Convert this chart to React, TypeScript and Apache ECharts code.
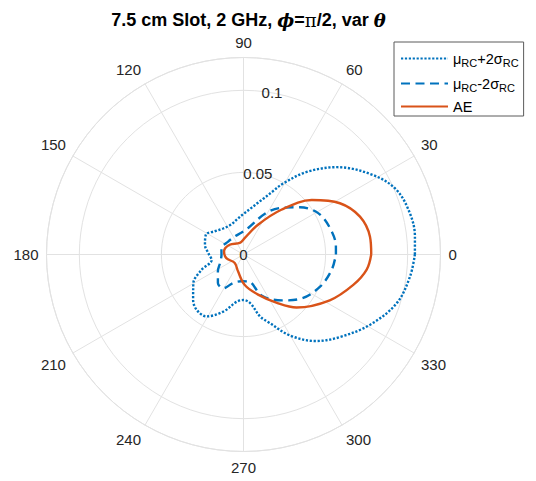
import React, { useEffect, useRef } from 'react';
import * as echarts from 'echarts';

// Angular ticks (degrees) and radial ticks
const angleTicks = [0, 30, 60, 90, 120, 150, 180, 210, 240, 270, 300, 330];
const radialTicks = [0, 0.05, 0.1];

// mu_RC + 2 sigma_RC (dotted)
const upTheta = [0, 6, 14, 23, 31.5, 43, 52.6, 61, 65, 70, 75, 80, 90, 100, 112, 128, 141, 152, 166, 178, 190, 200, 210, 222, 230, 239, 250.5, 262, 270, 278, 285, 290, 300, 310, 319.4, 331, 342.3, 352.4, 360];
const upR = [0.1044, 0.105, 0.1044, 0.1011, 0.0926, 0.078, 0.0633, 0.0493, 0.0426, 0.0365, 0.0323, 0.029, 0.0247, 0.0219, 0.0198, 0.0201, 0.0225, 0.0259, 0.0242, 0.0214, 0.0197, 0.0272, 0.0353, 0.0413, 0.0442, 0.044, 0.0369, 0.029, 0.0277, 0.03, 0.0392, 0.0437, 0.0571, 0.0688, 0.0773, 0.0882, 0.0979, 0.1023, 0.1044];

// mu_RC - 2 sigma_RC (dashed)
const lowTheta = [0, 5, 17, 29, 40, 52, 62, 80, 95, 116, 140, 164, 180, 200, 213, 228, 239, 250, 265, 280, 294, 310, 322, 337, 350, 360];
const lowR = [0.0563, 0.0565, 0.0551, 0.052, 0.0448, 0.0359, 0.0283, 0.0164, 0.0134, 0.0122, 0.0122, 0.014, 0.0134, 0.0152, 0.0186, 0.0233, 0.024, 0.0185, 0.0164, 0.0166, 0.0276, 0.0365, 0.0439, 0.0505, 0.0545, 0.0563];

// AE (solid)
const aeTheta = [0, 8, 18, 28, 38.6, 49.8, 64, 86, 108, 145, 171, 192, 224, 252, 272, 290, 305, 315, 332, 344.5, 353, 360];
const aeR = [0.0778, 0.0778, 0.0746, 0.0665, 0.0532, 0.0357, 0.0202, 0.01, 0.0074, 0.0103, 0.012, 0.0107, 0.0074, 0.0108, 0.0184, 0.026, 0.0362, 0.0457, 0.0595, 0.0694, 0.0756, 0.0778];

const seriesNames = ['μRC+2σRC', 'μRC-2σRC', 'AE'];

export default function App() {
  const ref = useRef<HTMLDivElement>(null);
  useEffect(() => {
    document.body.style.margin = '0';
    const chart = echarts.init(ref.current!, null, { renderer: 'svg' });
    const font = '"Liberation Sans", Arial, Helvetica, sans-serif';
    const serif = '"DejaVu Serif", "Liberation Serif", serif';
    const pair = (r: number[], t: number[]) => r.map((v, i) => [v, t[i]]);
    const center = [243.5, 254.5];
    const grid = '#e2e2e2';
    chart.setOption({
      animation: false,
      backgroundColor: '#ffffff',
      title: {
        text: '{b|7.5 cm Slot, 2 GHz, }{g|ϕ}{b|=}{p|π}{b|/2, var }{g|θ}',
        left: 243.5,
        textAlign: 'center',
        top: 6,
        textStyle: {
          rich: {
            b: { fontFamily: font, fontWeight: 'bold', fontSize: 18, color: '#000' },
            g: { fontFamily: serif, fontStyle: 'italic', fontWeight: 'bold', fontSize: 18, color: '#000' },
            p: { fontFamily: serif, fontWeight: 'normal', fontSize: 18, color: '#000' },
          },
        },
      },
      legend: {
        orient: 'vertical',
        left: 394,
        top: 42,
        itemWidth: 47,
        itemHeight: 14,
        itemGap: 6,
        padding: [7, 5, 2, 6],
        borderColor: '#5a5a5a',
        borderWidth: 1,
        backgroundColor: '#ffffff',
        itemStyle: { opacity: 0 },
        data: seriesNames,
        formatter: (name: string) => {
          if (name === 'AE') return '{m|AE}';
          const sign = name.indexOf('+') >= 0 ? '+' : '-';
          return '{m|μ}{s|RC}{m|' + sign + '2σ}{s|RC}';
        },
        textStyle: {
          fontFamily: font,
          fontSize: 14.5,
          color: '#000',
          rich: {
            m: { fontFamily: font, fontSize: 14.5, lineHeight: 20, color: '#000' },
            s: { fontFamily: font, fontSize: 11, lineHeight: 11, padding: [8, 0, 0, 0], color: '#000' },
          },
        },
      },
      polar: [
        { center, radius: 197 },
        { center, radius: 197 },
      ],
      angleAxis: [
        {
          polarIndex: 0,
          type: 'value',
          min: 0,
          max: 360,
          interval: 30,
          startAngle: 0,
          clockwise: false,
          axisLine: { show: true, lineStyle: { color: grid, width: 1 } },
          axisTick: { show: false },
          splitLine: { show: true, lineStyle: { color: grid, width: 1 } },
          axisLabel: {
            color: '#262626',
            fontSize: 15,
            fontFamily: font,
            margin: 8,
            formatter: (v: number) => (angleTicks.indexOf(v) >= 0 ? String(v) : ''),
          },
        },
        {
          polarIndex: 1,
          type: 'value',
          min: 0,
          max: 360,
          startAngle: 80,
          clockwise: false,
          show: false,
        },
      ],
      radiusAxis: [
        {
          polarIndex: 0,
          type: 'value',
          min: 0,
          max: 0.12,
          interval: 0.05,
          axisLine: { show: false },
          axisTick: { show: false },
          axisLabel: { show: false },
          splitLine: { show: true, lineStyle: { color: grid, width: 1 } },
        },
        {
          polarIndex: 1,
          type: 'value',
          min: 0,
          max: 0.12,
          interval: 0.05,
          z: 10,
          axisLine: { show: false },
          axisTick: { show: false },
          splitLine: { show: false },
          axisLabel: {
            margin: 0,
            align: 'center',
            verticalAlign: 'middle',
            color: '#262626',
            fontSize: 15,
            fontFamily: font,
            formatter: (v: number) => {
              const hit = radialTicks.find((t) => Math.abs(t - v) < 1e-9);
              return hit === undefined ? '' : String(hit);
            },
          },
        },
      ],
      series: [
        {
          name: seriesNames[0],
          type: 'line',
          coordinateSystem: 'polar',
          polarIndex: 0,
          data: pair(upR, upTheta),
          smooth: 0.35,
          symbol: 'none',
          lineStyle: { color: '#0072BD', width: 2.4, type: [2.2, 1.7] },
          itemStyle: { color: '#0072BD' },
          z: 3,
        },
        {
          name: seriesNames[1],
          type: 'line',
          coordinateSystem: 'polar',
          polarIndex: 0,
          data: pair(lowR, lowTheta),
          smooth: 0.35,
          symbol: 'none',
          lineStyle: { color: '#0072BD', width: 2.4, type: [9, 5.5] },
          itemStyle: { color: '#0072BD' },
          z: 3,
        },
        {
          name: seriesNames[2],
          type: 'line',
          coordinateSystem: 'polar',
          polarIndex: 0,
          data: pair(aeR, aeTheta),
          smooth: 0.35,
          symbol: 'none',
          lineStyle: { color: '#D95319', width: 2.4, type: 'solid' },
          itemStyle: { color: '#D95319' },
          z: 4,
        },
      ],
    });
    return () => chart.dispose();
  }, []);
  return <div ref={ref} style={{ width: 536, height: 481 }} />;
}
